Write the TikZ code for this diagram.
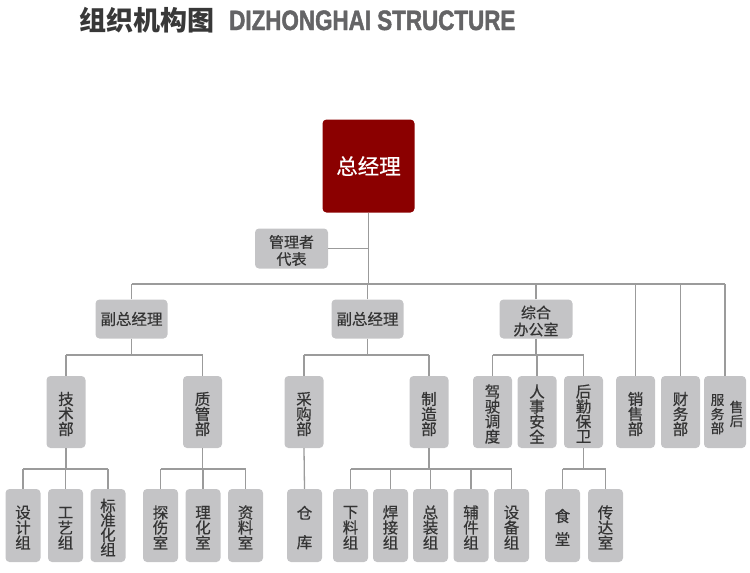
\documentclass[tikz,border=0pt]{standalone}
\usepackage{fontspec}
\usepackage{xcolor}
\usetikzlibrary{calc,positioning}
\newfontfamily\cjk{Noto Sans CJK SC}
\newfontfamily\cjkbox[FakeBold=0.5]{Noto Sans CJK SC}
\newfontfamily\headfont[FakeStretch=0.8,FakeBold=1.6]{Liberation Sans Bold}
\newcommand\vcol[3][18pt]{\vbox{\offinterlineskip\kern4pt\foreach \zi in {#3}{\hbox to #1{\hss\vbox to #2{\vss\hbox{\zi}\vss}\hss}}}}
\definecolor{bossred}{RGB}{139,0,0}
\definecolor{boxgray}{RGB}{196,196,198}
\definecolor{textgray}{RGB}{52,52,52}
\definecolor{linegray}{RGB}{155,155,155}
\definecolor{titlegray}{RGB}{100,100,102}

\begin{document}
\begin{tikzpicture}[x=1pt, y=-1pt,
    unit/.style={fill=boxgray, rounded corners=4pt, text=textgray, inner sep=0pt,
        font=\cjkbox\fontsize{15.5}{15.5}\selectfont},
    wide/.style={unit, minimum width=72pt, minimum height=39pt},
    tall/.style={unit, minimum width=39pt, minimum height=72pt},
    leaf/.style={unit, minimum width=35pt, minimum height=73pt},
    link/.style={draw=linegray, line width=1.3pt}]
    \useasboundingbox (0,0) rectangle (750,573);

    \node[anchor=base west, inner sep=0pt, font=\cjk\bfseries\fontsize{27}{27}\selectfont, text=black!78] (title) at (79,30) {组织机构图};
    \node[anchor=base west, inner sep=0pt, font=\headfont\fontsize{28}{28}\selectfont, text=titlegray] (subtitle) at (229,30) {DIZHONGHAI STRUCTURE};

    \node[unit, fill=bossred, text=white, minimum width=92pt, minimum height=93pt,
        font=\cjkbox\fontsize{21.5}{21.5}\selectfont] (gm) at (368.5,166) {总经理};
    \node[unit, minimum width=73pt, minimum height=40pt, font=\cjkbox\fontsize{15}{15}\selectfont] (rep) at (291.5,248.5) {\vcol[60pt]{17pt}{管理者,代表}};

    \node[wide] (vp1) at (131.5,319) {副总经理};
    \node[wide] (vp2) at (367.5,319) {副总经理};
    \node[wide, minimum width=73pt, font=\cjkbox\fontsize{15}{15}\selectfont] (office) at (536,319) {\vcol[60pt]{17pt}{综合,办公室}};

    \node[tall] (tech) at (66,412) {\vcol{15pt}{技,术,部}};
    \node[tall] (qc) at (202.5,412) {\vcol{15pt}{质,管,部}};
    \node[tall] (purch) at (304,412) {\vcol{15pt}{采,购,部}};
    \node[tall] (mfg) at (429,412) {\vcol{15pt}{制,造,部}};
    \node[tall] (drive) at (492.5,412) {\vcol{15pt}{驾,驶,调,度}};
    \node[tall] (hr) at (537,412) {\vcol{15pt}{人,事,安,全}};
    \node[tall] (logi) at (583.5,412) {\vcol{15pt}{后,勤,保,卫}};
    \node[tall] (sales) at (635.5,412) {\vcol{15pt}{销,售,部}};
    \node[tall] (fin) at (680.5,412) {\vcol{15pt}{财,务,部}};
    \node[tall, minimum width=40pt, font=\cjkbox\fontsize{13.5}{13.5}\selectfont] (after) at (725,412)
        {\hspace{4pt}$\vcenter{\vcol[19pt]{14pt}{服,务,部}}\vcenter{\vcol[19pt]{14pt}{售,后}}$};

    \node[leaf] (design) at (23,525.5) {\vcol{15pt}{设,计,组}};
    \node[leaf] (craft) at (65.5,525.5) {\vcol{15pt}{工,艺,组}};
    \node[leaf] (std) at (108,525.5) {\vcol{14.5pt}{标,准,化,组}};
    \node[leaf] (flaw) at (160.5,525.5) {\vcol{15pt}{探,伤,室}};
    \node[leaf] (lab) at (203,525.5) {\vcol{15pt}{理,化,室}};
    \node[leaf] (doc) at (245.5,525.5) {\vcol{15pt}{资,料,室}};
    \node[leaf] (store) at (304.5,525.5) {\vcol{29.5pt}{仓,库}};
    \node[leaf] (cut) at (350.5,525.5) {\vcol{15pt}{下,料,组}};
    \node[leaf] (weld) at (390.5,525.5) {\vcol{15pt}{焊,接,组}};
    \node[leaf] (asm) at (430.5,525.5) {\vcol{15pt}{总,装,组}};
    \node[leaf] (aux) at (471,525.5) {\vcol{15pt}{辅,件,组}};
    \node[leaf] (equip) at (511.5,525.5) {\vcol{15pt}{设,备,组}};
    \node[leaf] (canteen) at (562.5,525.5) {\vcol{23pt}{食,堂}};
    \node[leaf] (recep) at (605.5,525.5) {\vcol{15pt}{传,达,室}};

    \coordinate (busA) at (0,284);
    \coordinate (busB) at (0,355);
    \coordinate (busC) at (0,469);

    \draw[link] (gm.south) -- (gm.south |- busA);
    \draw[link] (rep.east) -- (rep.east -| gm.south);
    \draw[link] (vp1.north |- busA) -- (after.north |- busA);
    \foreach \n in {vp1,vp2,office,sales,fin,after}
        \draw[link] (\n.north) -- (\n.north |- busA);

    \draw[link] (tech.north |- busB) -- (qc.north |- busB);
    \draw[link] (purch.north |- busB) -- (mfg.north |- busB);
    \draw[link] (drive.north |- busB) -- (logi.north |- busB);
    \foreach \n in {vp1,vp2,office}
        \draw[link] (\n.south) -- (\n.south |- busB);
    \foreach \n in {tech,qc,purch,mfg,drive,hr,logi}
        \draw[link] (\n.north) -- (\n.north |- busB);

    \draw[link] (design.north |- busC) -- (std.north |- busC);
    \draw[link] (flaw.north |- busC) -- (doc.north |- busC);
    \draw[link] (cut.north |- busC) -- (equip.north |- busC);
    \draw[link] (canteen.north |- busC) -- (recep.north |- busC);
    \draw[link] (purch.south) -- (store.north);
    \foreach \n in {tech,qc,mfg,logi}
        \draw[link] (\n.south) -- (\n.south |- busC);
    \foreach \n in {design,craft,std,flaw,lab,doc,cut,weld,asm,aux,equip,canteen,recep}
        \draw[link] (\n.north) -- (\n.north |- busC);
\end{tikzpicture}
\end{document}
